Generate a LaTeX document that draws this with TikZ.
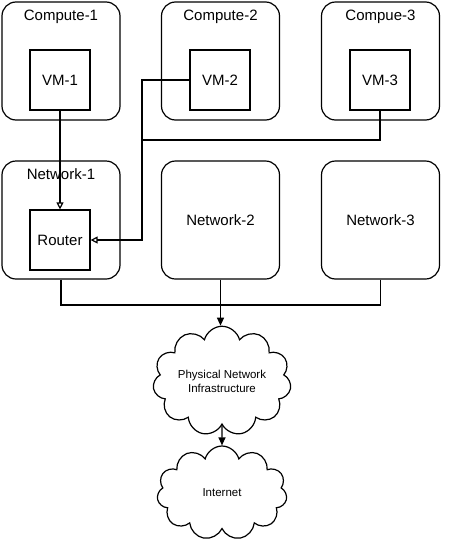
\documentclass[tikz,border=0pt]{standalone}
\usepackage{fontspec}
\setmainfont{Liberation Sans}
\usetikzlibrary{arrows.meta, positioning, shapes.symbols}
\tikzset{
  every picture/.style={line width=1.2pt},
  host/.style={draw, rounded corners=14pt, minimum width=118pt, minimum height=118pt, inner sep=0pt, font=\fontsize{15}{17}\selectfont},
  vm/.style={draw, minimum width=60pt, minimum height=60pt, inner sep=0pt, font=\fontsize{15}{17}\selectfont},
  title/.style={font=\fontsize{15}{17}\selectfont, anchor=north, inner sep=0pt},
  netcloud/.style={draw, fill=white, cloud, cloud puffs=11, aspect=1.45, minimum width=130pt, minimum height=90pt, align=center, inner sep=0pt, font=\fontsize{11.5}{14}\selectfont},
  link/.style={-{Triangle[open, length=7pt, width=7pt]}},
  uplink/.style={-{Triangle[length=8pt, width=7pt]}},
}

\begin{document}
\begin{tikzpicture}[x=1pt, y=-1pt]
  \useasboundingbox (0,0) rectangle (452,552);
  % compute hosts
  \node[host] (c1) at (61,61) {};
  \node[host] (c2) at (220.5,61) {};
  \node[host] (c3) at (380.5,61) {};
  \node[title] (c1t) at ([yshift=-8pt]c1.north) {Compute-1};
  \node[title] (c2t) at ([yshift=-8pt]c2.north) {Compute-2};
  \node[title] (c3t) at ([yshift=-8pt]c3.north) {Compue-3};
  \node[vm] (vm1) at (60,80) {VM-1};
  \node[vm] (vm2) at (220,80) {VM-2};
  \node[vm] (vm3) at (380,80) {VM-3};
  % networks
  \node[host] (net1) at (61,220) {};
  \node[host] (net2) at (220.5,220) {Network-2};
  \node[host] (net3) at (380.5,220) {Network-3};
  \node[title] (net1t) at ([yshift=-8pt]net1.north) {Network-1};
  \node[vm] (router) at (60,240) {Router};
  % clouds
  \node[netcloud] (phys) at (222,381) {Physical Network\\Infrastructure};
  \node[netcloud, minimum height=94pt] (inet) at (222,493) {Internet};
  \coordinate (bus) at (142,140);
  \coordinate (merge) at (220.5,305);
  \draw[link] (vm1) -- (router);
  \draw[link] (vm2.west) -| (bus) |- (router.east);
  \draw (vm3.south) |- (bus);
  \draw (net1.south) |- (merge);
  \draw (net3.south) |- (merge);
  \draw[uplink] (net2.south) -- (phys.north -| net2.south);
  \draw[uplink] (phys.south) -- (inet.north);
\end{tikzpicture}
\end{document}
